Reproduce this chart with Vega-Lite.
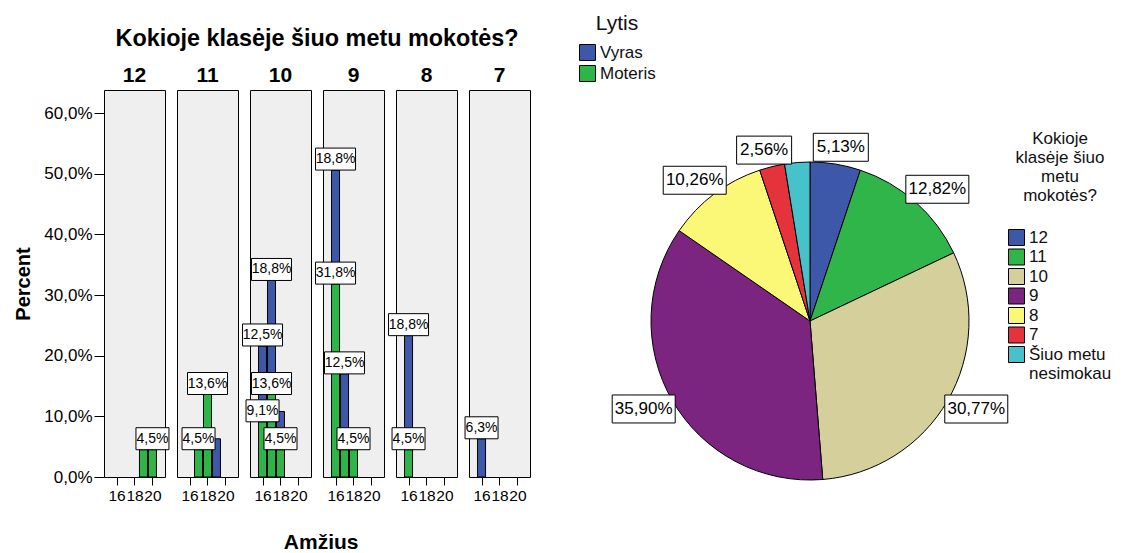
{
  "$schema": "https://vega.github.io/schema/vega-lite/v6.json",
  "padding": {"left": 13, "top": 13, "right": 0, "bottom": 0},
  "background": "white",
  "config": {
    "font": "Liberation Sans",
    "view": {"stroke": "black", "strokeWidth": 1, "fill": "#efefef"},
    "axis": {"grid": false, "domain": false, "tickColor": "black", "labelColor": "black", "titleColor": "black"},
    "legend": {"labelColor": "#111", "titleColor": "#111"}
  },
  "datasets": {
    "bars": [
      {"klase": 12, "amzius": 19, "lytis": "Moteris", "pct": 4.5},
      {"klase": 12, "amzius": 20, "lytis": "Moteris", "pct": 4.5},
      {"klase": 11, "amzius": 17, "lytis": "Moteris", "pct": 4.5},
      {"klase": 11, "amzius": 18, "lytis": "Moteris", "pct": 13.6},
      {"klase": 11, "amzius": 19, "lytis": "Vyras", "pct": 6.3},
      {"klase": 10, "amzius": 16, "lytis": "Vyras", "pct": 12.5},
      {"klase": 10, "amzius": 16, "lytis": "Moteris", "pct": 9.1},
      {"klase": 10, "amzius": 17, "lytis": "Vyras", "pct": 18.8},
      {"klase": 10, "amzius": 17, "lytis": "Moteris", "pct": 13.6},
      {"klase": 10, "amzius": 18, "lytis": "Vyras", "pct": 6.3},
      {"klase": 10, "amzius": 18, "lytis": "Moteris", "pct": 4.5},
      {"klase": 9, "amzius": 16, "lytis": "Vyras", "pct": 18.8},
      {"klase": 9, "amzius": 16, "lytis": "Moteris", "pct": 31.8},
      {"klase": 9, "amzius": 17, "lytis": "Vyras", "pct": 12.5},
      {"klase": 9, "amzius": 17, "lytis": "Moteris", "pct": 4.5},
      {"klase": 9, "amzius": 18, "lytis": "Moteris", "pct": 4.5},
      {"klase": 8, "amzius": 16, "lytis": "Vyras", "pct": 18.8},
      {"klase": 8, "amzius": 16, "lytis": "Moteris", "pct": 4.5},
      {"klase": 7, "amzius": 16, "lytis": "Vyras", "pct": 6.3}
    ],
    "pie": [
      {"klase": "12", "pct": 5.13},
      {"klase": "11", "pct": 12.82},
      {"klase": "10", "pct": 30.77},
      {"klase": "9", "pct": 35.90},
      {"klase": "8", "pct": 10.26},
      {"klase": "7", "pct": 2.56},
      {"klase": "Šiuo metu nesimokau", "pct": 2.56}
    ]
  },
  "spacing": 48,
  "resolve": {"scale": {"color": "independent", "fill": "independent", "x": "independent", "y": "independent", "theta": "independent"}},
  "hconcat": [
    {
      "data": {"name": "bars"},
      "transform": [
        {"stack": "pct", "groupby": ["klase", "amzius"], "sort": [{"field": "lytis", "order": "ascending"}], "as": ["y0", "y1"]},
        {"calculate": "replace(format(datum.pct, '.1f'), '.', ',') + '%'", "as": "lbl"}
      ],
      "title": {"text": "Amžius", "orient": "bottom", "anchor": "middle", "frame": "bounds", "fontSize": 21, "fontWeight": "bold", "color": "black", "offset": 28, "dx": 49},
      "facet": {
        "column": {
          "field": "klase", "type": "ordinal", "sort": "descending",
          "title": "Kokioje klasėje šiuo metu mokotės?",
          "header": {"titleFontSize": 23.4, "titleFontWeight": "bold", "titleColor": "black", "titlePadding": 4, "labelFontSize": 21, "labelFontWeight": "bold", "labelColor": "black", "labelPadding": 4}
        }
      },
      "spacing": 12,
      "bounds": "flush",
      "spec": {
        "width": 61,
        "height": 387,
        "layer": [
          {
            "mark": {"type": "bar", "width": 8, "stroke": "black", "strokeWidth": 1},
            "encoding": {
              "x": {"field": "amzius", "type": "quantitative", "scale": {"domain": [15.16, 20.84], "nice": false, "zero": false},
                    "axis": {"values": [16, 18, 20], "tickCount": 5, "title": null, "labelFontSize": 15.5, "tickSize": 8, "labelPadding": 3, "labelFlush": false, "labelOverlap": false, "labelBound": false}},
              "y": {"field": "y1", "type": "quantitative", "scale": {"domain": [0, 63.8], "nice": false},
                    "axis": {"values": [0, 10, 20, 30, 40, 50, 60], "tickCount": 10, "labelExpr": "replace(format(datum.value, '.1f'), '.', ',') + '%'", "title": "Percent", "labelFontSize": 17, "tickSize": 10, "labelPadding": 2, "titleFontSize": 20, "titleFontWeight": "bold", "titlePadding": 10}},
              "y2": {"field": "y0"},
              "color": {"field": "lytis", "type": "nominal", "scale": {"domain": ["Vyras", "Moteris"], "range": ["#3d58a8", "#2eb548"]}, "legend": null}
            }
          },
          {
            "transform": [{"filter": "!((datum.klase == 12 && datum.amzius == 19) || (datum.klase == 11 && datum.amzius == 19) || (datum.klase == 10 && datum.amzius == 18 && datum.lytis == 'Vyras') || (datum.klase == 9 && datum.amzius == 17 && datum.lytis == 'Moteris'))"}],
            "layer": [
              {
                "mark": {"type": "point", "filled": true, "fill": "white", "stroke": "black", "strokeWidth": 1, "opacity": 1, "size": 1600},
                "encoding": {
                  "x": {"field": "amzius", "type": "quantitative"},
                  "y": {"field": "y1", "type": "quantitative"},
                  "shape": {"condition": {"test": "length(datum.lbl) > 4", "value": "M-1,-1.1L1,-1.1L1,0L-1,0Z"}, "value": "M-0.825,-1.1L0.825,-1.1L0.825,0L-0.825,0Z"}
                }
              },
              {
                "mark": {"type": "text", "font": "Liberation Sans Narrow, Liberation Sans", "fontSize": 14, "color": "black", "dy": -11, "baseline": "middle"},
                "encoding": {
                  "x": {"field": "amzius", "type": "quantitative"},
                  "y": {"field": "y1", "type": "quantitative"},
                  "text": {"field": "lbl"}
                }
              }
            ]
          }
        ]
      }
    },
    {
      "width": 525,
      "height": 403,
      "view": {"stroke": null, "fill": null},
      "layer": [
        {
          "data": {"name": "pie"},
          "transform": [
            {"calculate": "indexof(['12','11','10','9','8','7','Šiuo metu nesimokau'], datum.klase)", "as": "eil"},
            {"stack": "pct", "groupby": [], "sort": [{"field": "eil", "order": "ascending"}], "as": ["a0", "a1"]},
            {"calculate": "PI * (datum.a0 + datum.a1) / 100", "as": "m"},
            {"calculate": "sin(datum.m)", "as": "lx"},
            {"calculate": "cos(datum.m)", "as": "ly"},
            {"calculate": "replace(format(datum.pct, '.2f'), '.', ',') + '%'", "as": "lbl"}
          ],
          "layer": [
            {
              "mark": {"type": "arc", "outerRadius": 159, "stroke": "black", "strokeWidth": 1},
              "encoding": {
                "x": {"datum": 0, "type": "quantitative", "scale": {"domain": [-1.09375, 1.640625], "nice": false, "zero": false}, "axis": null},
                "y": {"datum": 0, "type": "quantitative", "scale": {"domain": [-0.97727, 1.3125], "nice": false, "zero": false}, "axis": null},
                "theta": {"field": "pct", "type": "quantitative", "stack": true},
                "order": {"field": "eil", "type": "quantitative"},
                "color": {"field": "klase", "type": "nominal",
                          "scale": {"domain": ["12", "11", "10", "9", "8", "7", "Šiuo metu nesimokau"], "range": ["#3d58a8", "#2fb54a", "#d5cf9b", "#7c2580", "#fbf877", "#e5333b", "#47c1ca"]},
                          "legend": {"orient": "none", "legendX": 408, "legendY": 41, "title": ["Kokioje", "klasėje šiuo", "metu", "mokotės?"], "titleFontSize": 17, "titleFontWeight": "normal", "titleAnchor": "middle", "titleAlign": "center", "titleLineHeight": 19, "titlePadding": 24, "labelFontSize": 17, "symbolType": "square", "symbolSize": 256, "symbolStrokeColor": "black", "symbolStrokeWidth": 1, "rowPadding": -1.5, "labelOffset": 4, "labelExpr": "datum.label == 'Šiuo metu nesimokau' ? ['Šiuo metu', 'nesimokau'] : datum.label"}}
              }
            },
            {
              "transform": [{"filter": "datum.klase != 'Šiuo metu nesimokau'"}],
              "layer": [
                {
                  "mark": {"type": "point", "filled": true, "fill": "white", "stroke": "black", "strokeWidth": 1, "opacity": 1, "size": 3969},
                  "encoding": {
                    "x": {"field": "lx", "type": "quantitative"},
                    "y": {"field": "ly", "type": "quantitative"},
                    "shape": {"condition": {"test": "length(datum.lbl) > 5", "value": "M-1,-0.444L1,-0.444L1,0.444L-1,0.444Z"}, "value": "M-0.873,-0.444L0.873,-0.444L0.873,0.444L-0.873,0.444Z"}
                  }
                },
                {
                  "mark": {"type": "text", "fontSize": 17, "color": "black", "baseline": "middle"},
                  "encoding": {
                    "x": {"field": "lx", "type": "quantitative"},
                    "y": {"field": "ly", "type": "quantitative"},
                    "text": {"field": "lbl"}
                  }
                }
              ]
            }
          ]
        },
        {
          "data": {"name": "bars"},
          "mark": {"type": "square", "opacity": 0},
          "encoding": {
            "fill": {"field": "lytis", "type": "nominal", "scale": {"domain": ["Vyras", "Moteris"], "range": ["#3d58a8", "#2eb548"]},
                     "legend": {"orient": "none", "legendX": -21, "legendY": -77, "title": "Lytis", "titleFontSize": 21, "titleFontWeight": "normal", "titleAnchor": "middle", "titlePadding": 10, "labelFontSize": 17, "symbolType": "square", "symbolSize": 256, "symbolOpacity": 1, "symbolStrokeColor": "black", "symbolStrokeWidth": 1, "rowPadding": 0, "labelOffset": 4}}
          }
        }
      ]
    }
  ]
}
